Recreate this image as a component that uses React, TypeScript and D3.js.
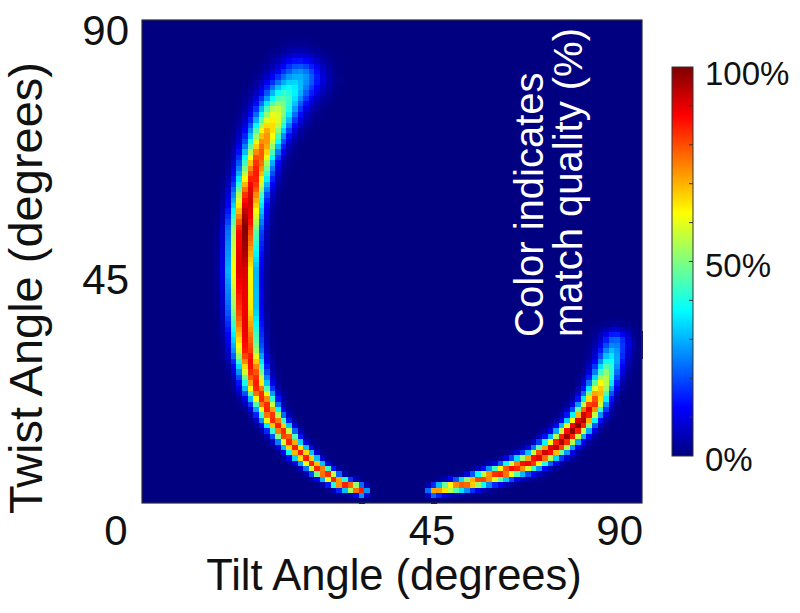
import React, { useMemo } from 'react';
import * as d3 from 'd3';

// ---- Data ----
// Axis ticks
const tiltTickLabels = ['45', '90'];
const twistTickLabels = ['45', '90'];
const originLabel = '0';
// Colorbar
const colorbarLabels = ['0%', '50%', '100%'];
const colorbarLabelValues = [0, 50, 100];
const colorbarMinorTicks = [10, 20, 30, 40, 50, 60, 70, 80, 90];

// Left arc ridge (tilt°, twist°, peak match 0..1, spread°)
const leftTilt = [28.3, 25.7, 24.1, 22.5, 20.9, 19.3, 18.4, 18.0, 18.2, 18.9, 20.5, 23.4, 27.5, 31.7, 35.6, 39.6];
const leftTwist = [79.2, 75.7, 72.7, 69.1, 64.3, 57.4, 50.9, 43.4, 36.0, 28.5, 22.0, 16.0, 10.4, 6.5, 3.9, 2.4];
const leftPeak = [0.3, 0.45, 0.6, 0.72, 0.82, 0.92, 1.0, 0.95, 0.9, 0.88, 0.85, 0.85, 0.85, 0.85, 0.85, 0.85];
const leftSpread = [2.7, 2.5, 2.3, 2.1, 1.9, 1.75, 1.7, 1.65, 1.6, 1.55, 1.45, 1.25, 1.05, 0.9, 0.75, 0.6];

// Right arc ridge
const rightTilt = [52.4, 58.5, 64.4, 70.4, 75.2, 78.8, 81.2, 83.0, 84.2, 85.1];
const rightTwist = [2.4, 3.7, 5.6, 8.0, 11.2, 14.9, 18.6, 22.9, 26.6, 29.8];
const rightPeak = [0.72, 0.8, 0.85, 0.9, 0.95, 1.0, 0.85, 0.6, 0.4, 0.25];
const rightSpread = [0.6, 0.8, 1.0, 1.2, 1.35, 1.4, 1.45, 1.5, 1.6, 1.75];

const GRID = 90;

// ---- helpers ----
function jet(t: number): string {
  const c = (v: number) => Math.max(0, Math.min(1, v));
  const r = c(1.5 - Math.abs(4 * t - 3));
  const g = c(1.5 - Math.abs(4 * t - 2));
  const b = c(1.5 - Math.abs(4 * t - 1));
  return d3.rgb(r * 255, g * 255, b * 255).formatHex();
}

function ridgeValue(px: number, py: number, xs: number[], ys: number[], pk: number[], sp: number[]) {
  let best = 0;
  for (let k = 0; k < xs.length - 1; k++) {
    const ax = xs[k], ay = ys[k], bx = xs[k + 1], by = ys[k + 1];
    const dx = bx - ax, dy = by - ay;
    const len2 = dx * dx + dy * dy;
    let t = ((px - ax) * dx + (py - ay) * dy) / len2;
    t = Math.max(0, Math.min(1, t));
    const qx = ax + t * dx, qy = ay + t * dy;
    const d2 = (px - qx) ** 2 + (py - qy) ** 2;
    const p = pk[k] + t * (pk[k + 1] - pk[k]);
    const s = sp[k] + t * (sp[k + 1] - sp[k]);
    const v = p * Math.exp(-d2 / (2 * s * s));
    if (v > best) best = v;
  }
  return best;
}

const FONT = '"Liberation Sans", Arial, Helvetica, sans-serif';

export default function App() {
  const W = 800, H = 613;
  const plot = { left: 142, right: 642, top: 20, bottom: 503 };
  const cb = { left: 672, right: 693, top: 67, bottom: 456 };

  const x = d3.scaleLinear().domain([0, 90]).range([plot.left, plot.right]);
  const y = d3.scaleLinear().domain([0, 90]).range([plot.bottom, plot.top]);
  const color = d3.scaleSequential((t: number) => jet(t)).domain([0, 1]);
  const cbScale = d3.scaleLinear().domain([0, 100]).range([cb.bottom, cb.top]);

  const cells = useMemo(() => {
    const out: { i: number; j: number; v: number }[] = [];
    for (let i = 0; i < GRID; i++) {
      for (let j = 0; j < GRID; j++) {
        const cx = i + 0.5, cy = j + 0.5;
        const v = Math.max(
          ridgeValue(cx, cy, leftTilt, leftTwist, leftPeak, leftSpread),
          ridgeValue(cx, cy, rightTilt, rightTwist, rightPeak, rightSpread)
        );
        if (v > 0.004) out.push({ i, j, v });
      }
    }
    return out;
  }, []);

  const gradStops = d3.range(0, 1.0001, 0.025);

  return (
    <svg width={W} height={H} style={{ position: 'absolute', left: 0, top: 0, background: '#fff' }}>
      <defs>
        <linearGradient id="jetGrad" x1="0" y1="1" x2="0" y2="0">
          {gradStops.map((s) => (
            <stop key={s} offset={s} stopColor={jet(s)} />
          ))}
        </linearGradient>
      </defs>
      {/* heatmap */}
      <rect x={plot.left} y={plot.top} width={plot.right - plot.left} height={plot.bottom - plot.top} fill={color(0)} />
      <g shapeRendering="crispEdges">
        {cells.map((c) => (
          <rect
            key={c.i * 100 + c.j}
            x={x(c.i)}
            y={y(c.j + 1)}
            width={x(c.i + 1) - x(c.i) + 0.6}
            height={y(c.j) - y(c.j + 1) + 0.6}
            fill={color(c.v)}
          />
        ))}
      </g>
      <rect x={plot.left} y={plot.top} width={plot.right - plot.left} height={plot.bottom - plot.top} fill="none" stroke="#2a2a40" strokeWidth={1.2} />

      {/* annotation */}
      <g fill="#fff" fontFamily={FONT} fontSize={40}>
        <text transform={`translate(543,337) rotate(-90)`}>Color indicates</text>
        <text transform={`translate(582,337) rotate(-90)`}>match quality (%)</text>
      </g>

      {/* tick labels */}
      <g fontFamily={FONT} fontSize={42} fill="#111">
        <text x={116} y={545} textAnchor="middle">{originLabel}</text>
        <text x={x(45) + 40} y={545} textAnchor="middle">{tiltTickLabels[0]}</text>
        <text x={x(90) + 1} y={545} textAnchor="end">{tiltTickLabels[1]}</text>
        <text x={129} y={y(45) + 32} textAnchor="end">{twistTickLabels[0]}</text>
        <text x={129} y={y(90) + 25} textAnchor="end">{twistTickLabels[1]}</text>
      </g>

      {/* axis titles */}
      <text x={394} y={590} textAnchor="middle" fontFamily={FONT} fontSize={43.5} fill="#111">Tilt Angle (degrees)</text>
      <text transform={`translate(42,288) rotate(-90)`} textAnchor="middle" fontFamily={FONT} fontSize={47} fill="#111">Twist Angle (degrees)</text>

      {/* colorbar */}
      <rect x={cb.left} y={cb.top} width={cb.right - cb.left} height={cb.bottom - cb.top} fill="url(#jetGrad)" stroke="#333" strokeWidth={1} />
      {colorbarMinorTicks.map((t) => (
        <line key={t} x1={cb.right - 4} x2={cb.right} y1={cbScale(t)} y2={cbScale(t)} stroke="#333" strokeWidth={1} />
      ))}
      <g fontFamily={FONT} fontSize={33} fill="#111">
        {colorbarLabels.map((l, k) => (
          <text key={l} x={705} y={cbScale(colorbarLabelValues[k]) + 15 + (k === 2 ? 3 : 0)}>{l}</text>
        ))}
      </g>
    </svg>
  );
}
